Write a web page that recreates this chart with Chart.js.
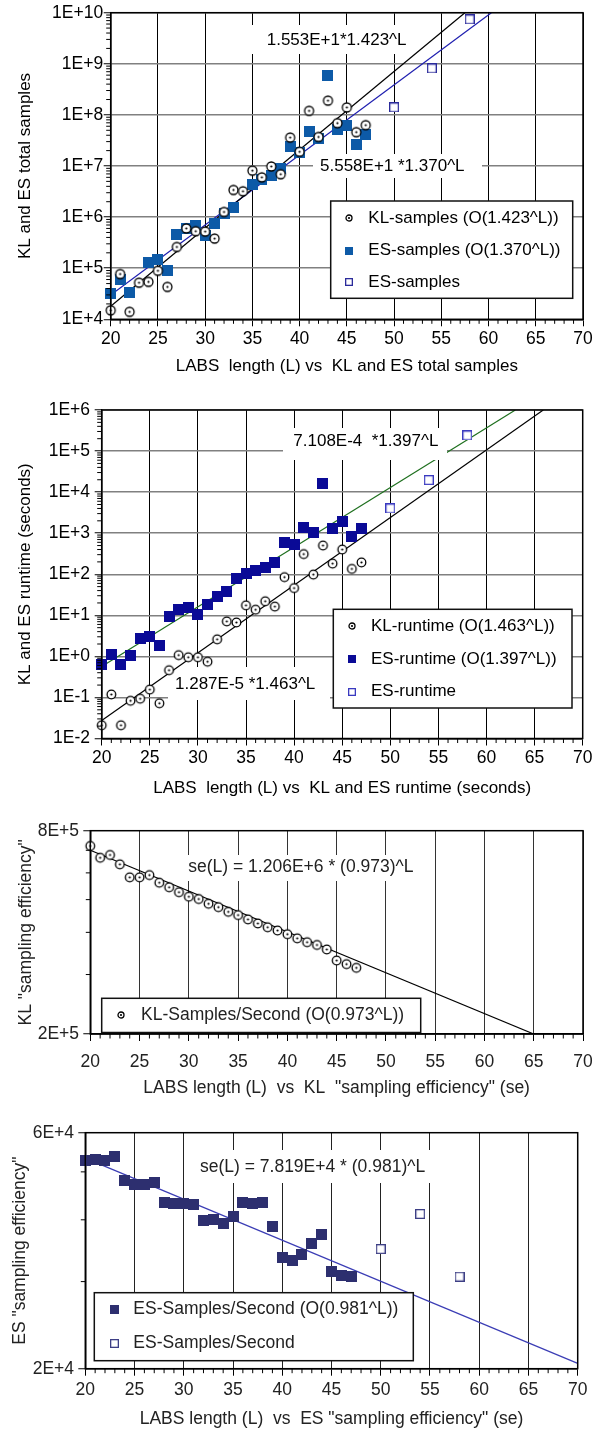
<!DOCTYPE html>
<html>
<head>
<meta charset="utf-8">
<script src="https://cdn.jsdelivr.net/npm/chart.js@4.4.0/dist/chart.umd.min.js"></script>
<style>
body { margin: 0; background: #fff; }
#wrap { position: relative; width: 605px; height: 1433px; }
canvas { position: absolute; left: 0; }
</style>
</head>
<body>
<div id="wrap">
  <canvas id="samples" width="605" height="390" style="top:0px"></canvas>
  <canvas id="runtime" width="605" height="420" style="top:390px"></canvas>
  <canvas id="kl-eff" width="605" height="290" style="top:810px"></canvas>
  <canvas id="es-eff" width="605" height="333" style="top:1100px"></canvas>
</div>
<script>
// LABS length for the measured runs
const lengths = [20, 21, 22, 23, 24, 25, 26, 27, 28, 29, 30, 31, 32, 33, 34, 35, 36, 37, 38, 39, 40, 41, 42, 43, 44, 45, 46, 47];
const extraLengths = [50, 54, 58];

// panel 1: total samples
const klSamples = [1.5e4, 7.7e4, 1.4e4, 5.2e4, 5.4e4, 8.9e4, 4.3e4, 2.6e5, 6.0e5, 5.3e5, 5.2e5, 3.8e5, 1.26e6, 3.4e6,
  3.2e6, 8.1e6, 6.0e6, 9.8e6, 6.9e6, 3.6e7, 1.9e7, 1.2e8, 3.7e7, 1.9e8, 6.9e7, 1.4e8, 4.6e7, 6.3e7];
const esSamples = [3.2e4, 5.9e4, 3.3e4, null, 1.3e5, 1.5e5, 9.0e4, 4.6e5, 6.0e5, 6.8e5, 4.4e5, 7.4e5, 1.15e6, 1.55e6,
  null, 4.3e6, 5.5e6, 6.6e6, 8.8e6, 2.4e7, 1.8e7, 4.8e7, 3.5e7, 5.9e8, 5.1e7, 6.3e7, 2.6e7, 4.2e7];
const esSamplesExtra = [1.4e8, 8.1e8, 7.4e9];
const klSamplesFitL = [20, 57.5];
const klSamplesFit = [1.8e4, 1e10];
const esSamplesFitL = [20, 60.3];
const esSamplesFit = [3.0e4, 1e10];

// panel 2: runtime (seconds)
const klRuntime = [0.021, 0.118, 0.021, 0.083, 0.093, 0.155, 0.072, 0.46, 1.07, 0.95, 0.95, 0.74, 2.6, 7.1,
  6.7, 17.5, 13.7, 22, 16.3, 85, 46, 310, 98, 500, 182, 400, 135, 194];
const esRuntime = [0.63, 1.12, 0.65, 1.05, 2.8, 3.1, 1.85, 9.6, 14, 15.5, 10.5, 18, 29, 37,
  77, 104, 126, 149, 196, 590, 520, 1380, 1030, 16000, 1320, 1900, 850, 1290];
const esRuntimeExtra = [4000, 19600, 2.4e5];
const klRuntimeFitL = [20, 65.9];
const klRuntimeFit = [0.0275, 1e6];
const esRuntimeFitL = [20, 63];
const esRuntimeFit = [0.57, 1e6];

// panel 3: KL samples per second
const klEfficiency = [7.21e5, 6.65e5, 6.78e5, 6.36e5, 5.82e5, 5.82e5, 5.91e5, 5.61e5, 5.44e5, 5.26e5, 5.10e5, 5.02e5, 4.86e5, 4.75e5,
  4.60e5, 4.50e5, 4.37e5, 4.25e5, 4.14e5, 4.05e5, 3.95e5, 3.84e5, 3.74e5, 3.67e5, 3.56e5, 3.30e5, 3.22e5, 3.14e5];
const klEffFitL = [20, 65];
const klEffFit = [7.0e5, 2.0e5];

// panel 4: ES samples per second
const esEfficiency = [5.26e4, 5.30e4, 5.27e4, 5.37e4, 4.80e4, 4.72e4, 4.72e4, 4.75e4, 4.33e4, 4.31e4, 4.32e4, 4.30e4, 3.98e4, 4.01e4,
  3.93e4, 4.07e4, 4.33e4, 4.31e4, 4.33e4, 3.88e4, 3.35e4, 3.31e4, 3.41e4, 3.59e4, 3.73e4, 3.15e4, 3.09e4, 3.07e4];
const esEfficiencyExtra = [3.49e4, 4.11e4, 3.07e4];
const esEffFitL = [20, 70];
const esEffFit = [5.33e4, 2.05e4];

// axis ticks
const xTicks = [20, 25, 30, 35, 40, 45, 50, 55, 60, 65, 70];
const minorX = [21, 22, 23, 24, 26, 27, 28, 29, 31, 32, 33, 34, 36, 37, 38, 39, 41, 42, 43, 44, 46, 47, 48, 49,
  51, 52, 53, 54, 56, 57, 58, 59, 61, 62, 63, 64, 66, 67, 68, 69];
const samplesTicks = [1e4, 1e5, 1e6, 1e7, 1e8, 1e9, 1e10];
const samplesLabels = ['1E+4', '1E+5', '1E+6', '1E+7', '1E+8', '1E+9', '1E+10'];
const runtimeTicks = [1e-2, 1e-1, 1, 1e1, 1e2, 1e3, 1e4, 1e5, 1e6];
const runtimeLabels = ['1E-2', '1E-1', '1E+0', '1E+1', '1E+2', '1E+3', '1E+4', '1E+5', '1E+6'];
const klEffTicks = [2e5, 8e5];
const klEffLabels = ['2E+5', '8E+5'];
const klEffMinor = [3e5, 4e5, 5e5, 6e5, 7e5];
const esEffTicks = [2e4, 6e4];
const esEffLabels = ['2E+4', '6E+4'];
const esEffMinor = [3e4, 4e4, 5e4];

const FONT = '"Liberation Sans", Arial, Helvetica, sans-serif';

function logMinor(decades) {
  const out = [];
  for (let i = 0; i < decades.length - 1; i++) {
    for (let k = 2; k <= 9; k++) out.push(k * decades[i]);
  }
  return out;
}

// marker images
function dotCircle(r) {
  const s = Math.ceil(2 * r + 4);
  const c = document.createElement('canvas');
  c.width = c.height = s;
  const g = c.getContext('2d');
  g.beginPath();
  g.arc(s / 2, s / 2, r, 0, 2 * Math.PI);
  g.fillStyle = '#fff';
  g.fill();
  g.lineWidth = 1.3;
  g.strokeStyle = '#000';
  g.stroke();
  g.beginPath();
  g.arc(s / 2, s / 2, 1.1, 0, 2 * Math.PI);
  g.fillStyle = '#000';
  g.fill();
  return c;
}
function solidSquare(side, color) {
  const c = document.createElement('canvas');
  c.width = c.height = side;
  const g = c.getContext('2d');
  g.fillStyle = color;
  g.fillRect(0, 0, side, side);
  return c;
}
function hollowSquare(side, color) {
  const c = document.createElement('canvas');
  c.width = c.height = side;
  const g = c.getContext('2d');
  g.fillStyle = '#fff';
  g.fillRect(0, 0, side, side);
  g.strokeStyle = color;
  g.lineWidth = 1.3;
  g.strokeRect(0.65, 0.65, side - 1.3, side - 1.3);
  return c;
}

function pts(xs, ys) {
  return xs.map((x, i) => ({ x: x, y: ys[i] })).filter(p => p.y != null);
}
function markers(label, xs, ys, img, order) {
  return { label: label, data: pts(xs, ys), pointStyle: img, pointRadius: 4, pointHoverRadius: 4,
    showLine: false, clip: false, order: order };
}
function fitLine(xs, ys, color) {
  return { data: pts(xs, ys), showLine: true, borderColor: color, borderWidth: 1.2, pointRadius: 0,
    pointHoverRadius: 0, fill: false, order: 9 };
}

function drawNote(ctx, n) {
  const b = n.box;
  ctx.save();
  ctx.fillStyle = '#fff';
  ctx.fillRect(b[0], b[1], b[2] - b[0], b[3] - b[1]);
  ctx.fillStyle = n.color;
  ctx.font = n.size + 'px ' + FONT;
  ctx.textBaseline = 'middle';
  ctx.textAlign = 'left';
  ctx.fillText(n.text, n.x, n.y);
  ctx.restore();
}

function decor(p) {
  return {
    id: 'decor',
    beforeDatasetsDraw(chart) {
      p.notes.filter(n => !n.above).forEach(n => drawNote(chart.ctx, n));
    },
    afterDatasetsDraw(chart) {
      const ctx = chart.ctx;
      const a = chart.chartArea;
      const xs = chart.scales.x;
      const ys = chart.scales.y;
      p.notes.filter(n => n.above).forEach(n => drawNote(ctx, n));
      ctx.save();
      ctx.strokeStyle = '#000';
      ctx.lineWidth = 1;
      minorX.forEach(v => {
        const px = xs.getPixelForValue(v);
        ctx.beginPath();
        ctx.moveTo(px, a.bottom);
        ctx.lineTo(px, a.bottom + 4.5);
        ctx.stroke();
      });
      p.minorY.forEach(v => {
        const py = ys.getPixelForValue(v);
        ctx.beginPath();
        ctx.moveTo(a.left - 4.5, py);
        ctx.lineTo(a.left, py);
        ctx.stroke();
      });
      ctx.lineWidth = 1.5;
      ctx.strokeRect(a.left, a.top, a.right - a.left, a.bottom - a.top);

      // legend box
      const lg = p.legend;
      const b = lg.box;
      ctx.fillStyle = '#fff';
      ctx.fillRect(b[0], b[1], b[2] - b[0], b[3] - b[1]);
      ctx.lineWidth = 1.5;
      ctx.strokeStyle = '#111';
      ctx.strokeRect(b[0], b[1], b[2] - b[0], b[3] - b[1]);
      ctx.font = lg.size + 'px ' + FONT;
      ctx.textBaseline = 'middle';
      ctx.fillStyle = p.text;
      lg.items.forEach(it => {
        ctx.drawImage(it.img, Math.round(lg.markX - it.img.width / 2), Math.round(it.y - it.img.height / 2));
        ctx.fillText(it.label, lg.textX, it.y);
      });
      ctx.restore();
    }
  };
}

function buildPanel(id, p) {
  const tickFont = { family: FONT, size: 17.5 };
  return new Chart(document.getElementById(id), {
    type: 'scatter',
    data: { datasets: p.datasets },
    options: {
      responsive: false,
      animation: false,
      events: [],
      layout: { padding: { top: p.area.top, right: 605 - p.area.right, left: 0, bottom: 0 } },
      plugins: { legend: { display: false }, tooltip: { enabled: false } },
      scales: {
        x: {
          type: 'linear',
          min: 20,
          max: 70,
          afterBuildTicks: s => { s.ticks = xTicks.map(v => ({ value: v })); },
          afterFit: s => { s.height = p.height - p.area.bottom; },
          ticks: { callback: v => String(v), font: tickFont, color: p.text, padding: p.xPad, maxRotation: 0, autoSkip: false },
          grid: { color: p.vGrid, lineWidth: 1, drawTicks: true, tickLength: 7, tickColor: '#000', tickWidth: 1 },
          border: { display: true, color: '#000', width: 1.5 },
          title: { display: true, text: p.xTitle, font: { family: FONT, size: p.titleSize }, color: p.text,
            padding: { top: 0, bottom: p.xTitlePad } }
        },
        y: {
          type: 'logarithmic',
          min: p.yTicks[0],
          max: p.yTicks[p.yTicks.length - 1],
          afterBuildTicks: s => { s.ticks = p.yTicks.map(v => ({ value: v, major: true })); },
          afterFit: s => { s.width = p.area.left; },
          ticks: { callback: (v, i) => p.yLabels[i], font: tickFont, color: p.text, padding: p.yPad, autoSkip: false },
          grid: { color: p.hGrid || '#000', drawOnChartArea: !!p.hGrid, lineWidth: 1.5, drawTicks: true,
            tickLength: 7, tickColor: '#000', tickWidth: 1 },
          border: { display: true, color: '#000', width: 1.5 },
          title: { display: true, text: p.yTitle, font: { family: FONT, size: p.titleSize }, color: p.text,
            padding: { top: p.yTitlePad, bottom: 0 } }
        }
      }
    },
    plugins: [decor(p)]
  });
}

// panel 1
const c1 = dotCircle(4.5), s1 = solidSquare(11, '#0d5aa7'), h1 = hollowSquare(10, '#2b2b9b');
buildPanel('samples', {
  height: 390,
  area: { left: 110.7, right: 583, top: 12.7, bottom: 319.3 },
  text: '#000', titleSize: 17, xPad: 2.6, yPad: 0.5, xTitlePad: 13.8, yTitlePad: 14.8,
  vGrid: '#000', hGrid: '#808080',
  xTitle: 'LABS  length (L) vs  KL and ES total samples',
  yTitle: 'KL and ES total samples',
  yTicks: samplesTicks, yLabels: samplesLabels, minorY: logMinor(samplesTicks),
  datasets: [
    markers('KL-samples (O(1.423^L))', lengths, klSamples, c1, 0),
    markers('ES-samples (O(1.370^L))', lengths, esSamples, s1, 1),
    markers('ES-samples', extraLengths, esSamplesExtra, h1, 2),
    fitLine(klSamplesFitL, klSamplesFit, '#000'),
    fitLine(esSamplesFitL, esSamplesFit, '#2020b0')
  ],
  notes: [
    { text: '1.553E+1*1.423^L', x: 266.7, y: 40.7, box: [249, 25, 412, 54], size: 17, color: '#000' },
    { text: '5.558E+1 *1.370^L', x: 320, y: 166.7, box: [313, 154, 482, 178], size: 17, color: '#000' }
  ],
  legend: {
    box: [330.7, 201, 572.7, 298.3], markX: 349, textX: 368.3, size: 17,
    items: [
      { img: dotCircle(3), label: 'KL-samples (O(1.423^L))', y: 218 },
      { img: solidSquare(8, '#0d5aa7'), label: 'ES-samples (O(1.370^L))', y: 250.7 },
      { img: hollowSquare(8, '#2b2b9b'), label: 'ES-samples', y: 282 }
    ]
  }
});

// panel 2
const c2 = dotCircle(4.3), s2 = solidSquare(11, '#0a0a96'), h2 = hollowSquare(10, '#3a3ac0');
buildPanel('runtime', {
  height: 420,
  area: { left: 101.7, right: 582.7, top: 20, bottom: 348.5 },
  text: '#000', titleSize: 17, xPad: 2.6, yPad: 4.7, xTitlePad: 11.5, yTitlePad: 14.8,
  vGrid: '#000', hGrid: '#808080',
  xTitle: 'LABS  length (L) vs  KL and ES runtime (seconds)',
  yTitle: 'KL and ES runtime (seconds)',
  yTicks: runtimeTicks, yLabels: runtimeLabels, minorY: logMinor(runtimeTicks),
  datasets: [
    markers('KL-runtime (O(1.463^L))', lengths, klRuntime, c2, 0),
    markers('ES-runtime (O(1.397^L))', lengths, esRuntime, s2, 1),
    markers('ES-runtime', extraLengths, esRuntimeExtra, h2, 2),
    fitLine(klRuntimeFitL, klRuntimeFit, '#000'),
    fitLine(esRuntimeFitL, esRuntimeFit, '#1f701f')
  ],
  notes: [
    { text: '7.108E-4  *1.397^L', x: 293.3, y: 51.7, box: [283, 38, 447, 70], size: 17, color: '#000', above: true },
    { text: '1.287E-5 *1.463^L', x: 175, y: 294, box: [168, 277, 330, 310], size: 17, color: '#000' }
  ],
  legend: {
    box: [333.3, 219.3, 572, 318], markX: 351.7, textX: 371, size: 17,
    items: [
      { img: dotCircle(3), label: 'KL-runtime (O(1.463^L))', y: 236 },
      { img: solidSquare(8, '#0a0a96'), label: 'ES-runtime (O(1.397^L))', y: 269.3 },
      { img: hollowSquare(8, '#3a3ac0'), label: 'ES-runtime', y: 301.7 }
    ]
  }
});

// panel 3
const c3 = dotCircle(4.3);
buildPanel('kl-eff', {
  height: 290,
  area: { left: 90.3, right: 583, top: 20.7, bottom: 224 },
  text: '#222', titleSize: 17.5, xPad: 10.8, yPad: 4.3, xTitlePad: 1.2, yTitlePad: 15.2,
  vGrid: '#333', hGrid: null,
  xTitle: 'LABS length (L)  vs  KL  "sampling efficiency" (se)',
  yTitle: 'KL "sampling efficiency"',
  yTicks: klEffTicks, yLabels: klEffLabels, minorY: klEffMinor,
  datasets: [
    markers('KL-Samples/Second (O(0.973^L))', lengths, klEfficiency, c3, 0),
    fitLine(klEffFitL, klEffFit, '#000')
  ],
  notes: [
    { text: 'se(L) = 1.206E+6 * (0.973)^L', x: 188.3, y: 56.7, box: [180, 45, 422, 71], size: 17.5, color: '#222' }
  ],
  legend: {
    box: [101.7, 188.3, 420.7, 222.5], markX: 120.7, textX: 141, size: 17.5,
    items: [
      { img: dotCircle(3), label: 'KL-Samples/Second (O(0.973^L))', y: 205 }
    ]
  }
});

// panel 4
const s4 = solidSquare(11, '#2d2f6f'), h4 = hollowSquare(10, '#3d3f85');
buildPanel('es-eff', {
  height: 333,
  area: { left: 85.3, right: 577.7, top: 32.7, bottom: 268.7 },
  text: '#222', titleSize: 17.5, xPad: 4.1, yPad: 4.3, xTitlePad: 3.2, yTitlePad: 9.2,
  vGrid: '#222', hGrid: null,
  xTitle: 'LABS length (L)  vs  ES "sampling efficiency" (se)',
  yTitle: 'ES "sampling efficiency"',
  yTicks: esEffTicks, yLabels: esEffLabels, minorY: esEffMinor,
  datasets: [
    markers('ES-Samples/Second (O(0.981^L))', lengths, esEfficiency, s4, 0),
    markers('ES-Samples/Second', extraLengths, esEfficiencyExtra, h4, 1),
    fitLine(esEffFitL, esEffFit, '#3b3db5')
  ],
  notes: [
    { text: 'se(L) = 7.819E+4 * (0.981)^L', x: 200, y: 66.7, box: [192, 50, 434, 83], size: 17.5, color: '#222' }
  ],
  legend: {
    box: [94.3, 192.7, 413.3, 260.7], markX: 114, textX: 133.3, size: 17.5,
    items: [
      { img: solidSquare(9, '#2d2f6f'), label: 'ES-Samples/Second (O(0.981^L))', y: 209.3 },
      { img: hollowSquare(9, '#3d3f85'), label: 'ES-Samples/Second', y: 243.3 }
    ]
  }
});
</script>
</body>
</html>
